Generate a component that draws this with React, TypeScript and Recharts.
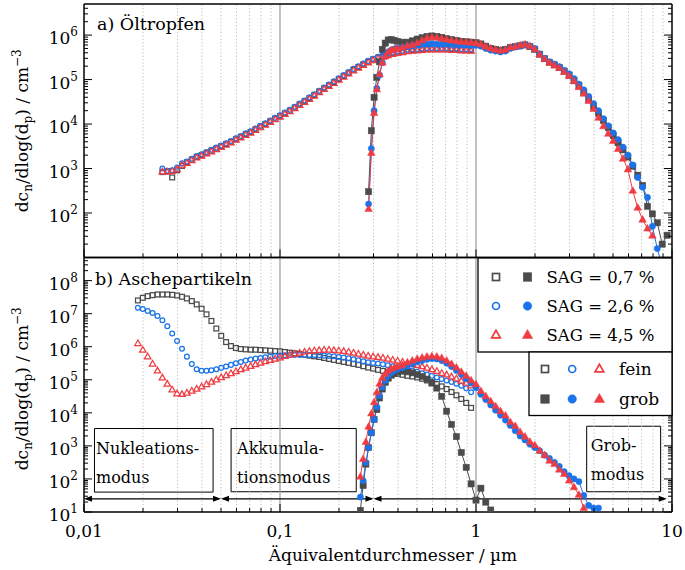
import React from "react";
import {
  ComposedChart,
  Scatter,
  Line,
  XAxis,
  YAxis,
  ReferenceLine,
  ReferenceArea,
} from "recharts";

const FONT = "'DejaVu Serif', serif";
const GREY = "#4b4b4b";
const BLUE = "#1a73e8";
const RED = "#ef3b42";

// diameters in µm: fine = open markers, coarse = filled markers
const fineDp = [
  0.01884, 0.01995, 0.02113, 0.02239, 0.02371, 0.02512, 0.02661, 0.02818, 0.02985, 0.03162,
  0.0335, 0.03548, 0.03758, 0.03981, 0.04217, 0.04467, 0.04732, 0.05012, 0.05309, 0.05623,
  0.05957, 0.0631, 0.06683, 0.07079, 0.07499, 0.07943, 0.08414, 0.08913, 0.09441, 0.1,
  0.1059, 0.1122, 0.1189, 0.1259, 0.1334, 0.1413, 0.1496, 0.1585, 0.1679, 0.1778,
  0.1884, 0.1995, 0.2113, 0.2239, 0.2371, 0.2512, 0.2661, 0.2818, 0.2985, 0.3162,
  0.335, 0.3548, 0.3758, 0.3981, 0.4217, 0.4467, 0.4732, 0.5012, 0.5309, 0.5623,
  0.5957, 0.631, 0.6683, 0.7079, 0.7499, 0.7943, 0.8414, 0.8913, 0.9441,
];
const coarseDp = [
  0.257, 0.2655, 0.2742, 0.2831, 0.2924, 0.302, 0.3119, 0.3221, 0.3327, 0.3443,
  0.3565, 0.3698, 0.3837, 0.3981, 0.4217, 0.4467, 0.4732, 0.5012, 0.5309, 0.5623,
  0.5957, 0.631, 0.6683, 0.7079, 0.7499, 0.7943, 0.8414, 0.8913, 0.9441, 1.0,
  1.059, 1.122, 1.189, 1.259, 1.334, 1.413, 1.496, 1.585, 1.679, 1.778,
  1.884, 1.995, 2.113, 2.239, 2.371, 2.512, 2.661, 2.818, 2.985, 3.162,
  3.35, 3.548, 3.758, 3.981, 4.217, 4.467, 4.732, 5.012, 5.309, 5.623,
  5.957, 6.31, 6.683, 7.079, 7.499, 7.943, 8.414, 8.913, 9.441,
];

// log10(dc_n/dlog(d_p) / cm^-3); null = no value
// a) Öltropfen
const oilFine07 = [
  null, null, null, null, null, 2.92, 2.94, 2.8, 2.96, 3.06,
  3.14, 3.2, 3.26, 3.3, 3.35, 3.4, 3.45, 3.5, 3.55, 3.6,
  3.66, 3.71, 3.77, 3.82, 3.88, 3.94, 4.0, 4.06, 4.12, 4.18,
  4.24, 4.3, 4.37, 4.44, 4.51, 4.58, 4.65, 4.73, 4.8, 4.87,
  4.94, 5.01, 5.08, 5.15, 5.22, 5.28, 5.34, 5.4, 5.45, 5.49,
  5.53, 5.56, 5.59, 5.61, 5.63, 5.65, 5.66, 5.67, 5.68, 5.69,
  5.69, 5.69, 5.69, 5.69, 5.68, 5.68, 5.67, 5.67, 5.66,
];
const oilFine26 = [
  null, null, null, null, null, 3.0, 2.95, 2.96, 3.02, 3.12,
  3.16, 3.22, 3.28, 3.32, 3.37, 3.42, 3.47, 3.52, 3.57, 3.62,
  3.68, 3.73, 3.79, 3.84, 3.9, 3.96, 4.02, 4.08, 4.14, 4.2,
  4.26, 4.32, 4.39, 4.46, 4.53, 4.6, 4.67, 4.75, 4.82, 4.89,
  4.96, 5.03, 5.1, 5.17, 5.24, 5.3, 5.36, 5.42, 5.47, 5.51,
  5.55, 5.58, 5.61, 5.63, 5.65, 5.67, 5.68, 5.69, 5.7, 5.71,
  5.71, 5.71, 5.71, 5.71, 5.7, 5.7, 5.69, 5.69, 5.68,
];
const oilFine45 = [
  null, null, null, null, null, 2.93, 2.92, 2.94, 2.98, 3.08,
  3.12, 3.18, 3.24, 3.28, 3.33, 3.38, 3.43, 3.48, 3.53, 3.58,
  3.64, 3.69, 3.75, 3.8, 3.86, 3.92, 3.98, 4.04, 4.1, 4.16,
  4.22, 4.28, 4.35, 4.42, 4.49, 4.56, 4.63, 4.71, 4.78, 4.85,
  4.92, 4.99, 5.06, 5.13, 5.2, 5.26, 5.32, 5.38, 5.43, 5.47,
  5.51, 5.54, 5.57, 5.59, 5.61, 5.63, 5.64, 5.65, 5.66, 5.67,
  5.67, 5.67, 5.67, 5.67, 5.66, 5.66, 5.65, 5.65, 5.64,
];
const oilCoarse07 = [
  null, null, null, 2.48, 3.85, 4.6, 5.05, 5.4, 5.68, 5.82,
  5.89, 5.9, 5.88, 5.86, 5.84, 5.84, 5.87, 5.91, 5.94, 5.97,
  5.98, 5.97, 5.95, 5.92, 5.9, 5.88, 5.86, 5.85, 5.84, 5.83,
  5.8, 5.75, 5.7, 5.68, 5.66, 5.68, 5.72, 5.74, 5.76, 5.78,
  5.74, 5.68, 5.57, 5.47, 5.39, 5.33, 5.27, 5.19, 5.1, 4.98,
  4.86, 4.72, 4.56, 4.4, 4.24, 4.08, 3.92, 3.74, 3.58, 3.42,
  3.26, 3.05, 2.85, 2.62, 2.15, 1.98, 1.78, 1.3, 1.5,
];
const oilCoarse26 = [
  null, null, null, 2.2, 3.45, 4.3, 4.8, 5.1, 5.38, 5.55,
  5.62, 5.66, 5.69, 5.71, 5.72, 5.74, 5.76, 5.78, 5.8, 5.8,
  5.81, 5.8, 5.8, 5.8, 5.8, 5.79, 5.79, 5.78, 5.78, 5.77,
  5.75, 5.7, 5.66, 5.64, 5.62, 5.64, 5.7, 5.73, 5.75, 5.78,
  5.75, 5.7, 5.58, 5.48, 5.4, 5.35, 5.29, 5.21, 5.13, 5.02,
  4.9, 4.77, 4.62, 4.46, 4.3, 4.12, 3.96, 3.8, 3.65, 3.48,
  3.3, 3.08, 2.8, 2.58, 2.35, 1.7, 1.2, 0.8, null,
];
const oilCoarse45 = [
  null, null, null, 2.09, 3.35, 4.25, 4.78, 5.12, 5.38, 5.52,
  5.62, 5.66, 5.68, 5.7, 5.72, 5.76, 5.78, 5.82, 5.88, 5.93,
  5.95, 5.94, 5.92, 5.9, 5.88, 5.86, 5.85, 5.84, 5.83, 5.82,
  5.79, 5.74, 5.7, 5.67, 5.65, 5.67, 5.72, 5.74, 5.77, 5.79,
  5.75, 5.68, 5.56, 5.46, 5.38, 5.32, 5.26, 5.17, 5.08, 4.96,
  4.83, 4.68, 4.52, 4.34, 4.14, 3.95, 3.78, 3.62, 3.44, 3.22,
  2.98, 2.5, 2.12, 1.85, 1.65, 1.49, null, null, null,
];

// b) Aschepartikeln
const ashFine07 = [
  7.4, 7.48, 7.53, 7.56, 7.58, 7.58, 7.58, 7.57, 7.55, 7.51,
  7.46, 7.38, 7.28, 7.15, 6.98, 6.78, 6.55, 6.33, 6.14, 6.02,
  5.96, 5.93, 5.92, 5.91, 5.91, 5.9, 5.89, 5.88, 5.87, 5.86,
  5.84, 5.82, 5.8, 5.78, 5.76, 5.73, 5.71, 5.69, 5.66, 5.63,
  5.6, 5.57, 5.54, 5.51, 5.48, 5.45, 5.41, 5.37, 5.34, 5.3,
  5.27, 5.24, 5.21, 5.18, 5.15, 5.12, 5.1, 5.07, 5.03, 4.98,
  4.93, 4.87, 4.8, 4.72, 4.63, 4.53, 4.42, 4.3, 4.15,
];
const ashFine26 = [
  7.18, 7.14, 7.08, 7.02, 6.93, 6.8, 6.62, 6.4, 6.17, 5.94,
  5.7, 5.48, 5.32, 5.27, 5.27, 5.29, 5.32, 5.36, 5.4, 5.45,
  5.5, 5.54, 5.58, 5.61, 5.64, 5.66, 5.68, 5.7, 5.72, 5.73,
  5.74, 5.75, 5.75, 5.75, 5.75, 5.75, 5.75, 5.74, 5.73, 5.72,
  5.71, 5.69, 5.67, 5.65, 5.62, 5.59, 5.56, 5.53, 5.51, 5.49,
  5.47, 5.44, 5.41, 5.38, 5.35, 5.31, 5.28, 5.24, 5.2, 5.16,
  5.12, 5.07, 5.02, 4.98, 4.93, 4.88, 4.82, 4.74, 4.62,
];
const ashFine45 = [
  6.1, 5.9, 5.7, 5.48, 5.27, 5.06, 4.87, 4.7, 4.58, 4.56,
  4.6, 4.66, 4.72, 4.79, 4.86, 4.93, 5.0, 5.07, 5.13, 5.19,
  5.25, 5.31, 5.36, 5.41, 5.46, 5.51, 5.55, 5.59, 5.63, 5.67,
  5.71, 5.75, 5.78, 5.81, 5.84, 5.86, 5.88, 5.89, 5.9, 5.9,
  5.89, 5.88, 5.86, 5.84, 5.81, 5.78, 5.75, 5.72, 5.7, 5.68,
  5.66, 5.63, 5.6, 5.57, 5.54, 5.51, 5.47, 5.44, 5.4, 5.36,
  5.31, 5.26, 5.2, 5.15, 5.09, 5.03, 4.96, 4.9, 4.82,
];
const ashCoarse07 = [
  1.05, 1.8, 2.45, 2.95, 3.4, 3.8, 4.1, 4.45, 4.72, 4.92,
  5.05, 5.14, 5.2, 5.24, 5.26, 5.24, 5.21, 5.16, 5.1, 5.02,
  4.9, 4.75, 4.5, 4.05, 3.65, 3.28, 2.8, 2.35, 1.85, 1.36,
  1.72, 1.3, 1.06, null, null, null, null, null, null, null,
  null, null, null, null, null, null, null, null, null, null,
  null, null, null, null, null, null, null, null, null, null,
  null, null, null, null, null, null, null, null, null,
];
const ashCoarse26 = [
  1.45, 1.95, 2.5, 2.95, 3.4, 3.8, 4.18, 4.52, 4.78, 4.98,
  5.12, 5.22, 5.28, 5.32, 5.36, 5.42, 5.48, 5.54, 5.58, 5.62,
  5.64, 5.63, 5.58, 5.5, 5.4, 5.28, 5.16, 5.03, 4.9, 4.76,
  4.56, 4.4, 4.24, 4.08, 3.93, 3.78, 3.62, 3.46, 3.3, 3.18,
  3.05, 2.95, 2.85, 2.72, 2.62, 2.5, 2.38, 2.22, 2.1, 2.0,
  1.92, 1.5, 1.2, 1.12, 1.12, null, null, null, null, null,
  null, null, null, null, null, null, null, null, null,
];
const ashCoarse45 = [
  2.07, 2.6, 3.12, 3.58, 3.98, 4.32, 4.62, 4.88, 5.06, 5.18,
  5.27, 5.33, 5.37, 5.4, 5.45, 5.52, 5.58, 5.63, 5.67, 5.7,
  5.71, 5.7, 5.66, 5.58, 5.48, 5.37, 5.24, 5.12, 4.98, 4.86,
  4.66, 4.5, 4.35, 4.2, 4.05, 3.92, 3.72, 3.6, 3.42, 3.28,
  3.12, 3.02, 2.85, 2.72, 2.55, 2.45, 2.28, 2.15, 1.95, 1.75,
  1.52, 1.12, null, null, null, null, null, null, null, null,
  null, null, null, null, null, null, null, null, null,
];

// axes
const xMajor = [0.01, 0.1, 1, 10];
const xMinor = [
  0.02, 0.03, 0.04, 0.05, 0.06, 0.07, 0.08, 0.09,
  0.2, 0.3, 0.4, 0.5, 0.6, 0.7, 0.8, 0.9,
  2, 3, 4, 5, 6, 7, 8, 9,
];
const xSolidGrid = [0.1, 1];
const decades = [10, 100, 1e3, 1e4, 1e5, 1e6, 1e7, 1e8];
const minorSteps = [2, 3, 4, 5, 6, 7, 8, 9];
const yMajorA = [10, 100, 1e3, 1e4, 1e5, 1e6];
const yLabelsA = [100, 1e3, 1e4, 1e5, 1e6];
const yMajorB = [10, 100, 1e3, 1e4, 1e5, 1e6, 1e7, 1e8];
const X_DOMAIN: [number, number] = [0.01, 10];
const Y_DOMAIN_A: [number, number] = [10, 5e6];
const Y_DOMAIN_B: [number, number] = [10, 5e8];

// Modus annotations (panel b)
const modeBounds = [0.01, 0.05, 0.3, 9.4];
const arrowLevel = 25;
const modeBoxes = [
  { x1: 0.01131, x2: 0.04556, y1: 40, y2: 3350, lines: ["Nukleations-", "modus"], pad: 1.5 },
  { x1: 0.05629, x2: 0.2449, y1: 41, y2: 3350, lines: ["Akkumula-", "tionsmodus"], pad: 6 },
  { x1: 3.67, x2: 8.75, y1: 41, y2: 3930, lines: ["Grob-", "modus"], pad: 4 },
];

const sagLabels = ["SAG = 0,7 %", "SAG = 2,6 %", "SAG = 4,5 %"];
const sizeLabels = ["fein", "grob"];

type Kind = "square" | "circle" | "triangle";
type Side = "left" | "right" | "top" | "bottom";
const styles: { kind: Kind; color: string }[] = [
  { kind: "square", color: GREY },
  { kind: "circle", color: BLUE },
  { kind: "triangle", color: RED },
];

const minorsBelow = (max: number) =>
  decades.flatMap((d) => minorSteps.map((k) => k * d)).filter((v) => v < max);

const pts = (xs: number[], logs: (number | null)[]) =>
  xs.flatMap((x, i) => (logs[i] == null ? [] : [{ x, y: Math.pow(10, logs[i] as number) }]));

const fmtDp = (v: number) => String(v).replace(".", ",");
const isDecade = (v: number) => Math.abs(Math.log10(v) - Math.round(Math.log10(v))) < 1e-6;

function Marker({
  cx, cy, kind, color, filled, size, sw,
}: { cx?: number; cy?: number; kind: Kind; color: string; filled: boolean; size: number; sw: number }) {
  if (cx == null || cy == null || !isFinite(cx) || !isFinite(cy)) return null;
  const fill = filled ? color : "none";
  if (kind === "square") {
    return <rect x={cx - size / 2} y={cy - size / 2} width={size} height={size} fill={fill} stroke={color} strokeWidth={sw} />;
  }
  if (kind === "circle") {
    return <circle cx={cx} cy={cy} r={size / 2} fill={fill} stroke={color} strokeWidth={sw} />;
  }
  const w = size * 1.15;
  const h = size;
  return (
    <polygon
      points={`${cx},${cy - h * 0.62} ${cx - w / 2},${cy + h * 0.38} ${cx + w / 2},${cy + h * 0.38}`}
      fill={fill}
      stroke={color}
      strokeWidth={sw}
    />
  );
}

// one inward tick mark (long on decades), with an optional label
function AxisTick({ x, y, payload, side, labels }: any) {
  const v = payload.value as number;
  const len = isDecade(v) ? 8 : 4;
  const dir: Record<Side, [number, number]> = {
    left: [len, 0],
    right: [-len, 0],
    bottom: [0, -len],
    top: [0, len],
  };
  const [dx, dy] = dir[side as Side];
  const show = labels && labels.some((l: number) => Math.abs(l - v) < 1e-9 * l);
  return (
    <g>
      <line x1={x} y1={y} x2={x + dx} y2={y + dy} stroke="#000" strokeWidth={1} />
      {show && side === "left" && (
        <text x={x - 6} y={y + 9} textAnchor="end" fontFamily={FONT} fontSize={17} fill="#000">
          10<tspan dy={-8} fontSize={12}>{Math.round(Math.log10(v))}</tspan>
        </text>
      )}
      {show && side === "bottom" && (
        <text x={x} y={y + 25} textAnchor="middle" fontFamily={FONT} fontSize={17} fill="#000">
          {fmtDp(v)}
        </text>
      )}
    </g>
  );
}

function YTitle({ cx, cy }: { cx: number; cy: number }) {
  return (
    <text transform={`rotate(-90 ${cx} ${cy})`} x={cx} y={cy} textAnchor="middle" fontFamily={FONT} fontSize={17} fill="#000">
      dc<tspan dy={4} fontSize={12}>n</tspan>
      <tspan dy={-4}>/dlog(d</tspan>
      <tspan dy={4} fontSize={12}>p</tspan>
      <tspan dy={-4}>) / cm</tspan>
      <tspan dy={-7} fontSize={12}>−3</tspan>
    </text>
  );
}

function DoubleArrow(p: any) {
  const { x1, x2, y1 } = p;
  if (![x1, x2, y1].every((v: number) => Number.isFinite(v))) return null;
  const L = 8;
  const W = 3;
  return (
    <g>
      <line x1={x1 + 2} y1={y1} x2={x2 - 2} y2={y1} stroke="#000" strokeWidth={1.2} />
      <polygon points={`${x1},${y1} ${x1 + L},${y1 - W} ${x1 + L},${y1 + W}`} fill="#000" />
      <polygon points={`${x2},${y1} ${x2 - L},${y1 - W} ${x2 - L},${y1 + W}`} fill="#000" />
    </g>
  );
}

const FRAME = { stroke: "#000", strokeWidth: 1.5 };
const xTicks = [...xMajor, ...xMinor];

const axisBase = {
  type: "number" as const,
  scale: "log" as const,
  allowDataOverflow: true,
  interval: 0 as const,
  tickLine: false,
  tickSize: 0,
  tickMargin: 0,
  axisLine: FRAME,
};

// main axes (left, bottom) carry ticks + labels; mirrored top/right axes carry ticks + frame
function axesFor(yDomain: [number, number], yMajor: number[], yLabels: number[], xLabels: number[], xHeight: number, xTitle: boolean, titleShift: number) {
  const yTicks = [...yMajor, ...minorsBelow(yDomain[1])];
  return [
    <XAxis
      key="x"
      xAxisId="x"
      dataKey="x"
      {...axisBase}
      domain={X_DOMAIN}
      ticks={xTicks}
      height={xHeight}
      tick={<AxisTick side="bottom" labels={xLabels} />}
      label={
        xTitle
          ? {
              content: (p: any) => (
                <text x={p.viewBox.x + p.viewBox.width / 2 + 15} y={p.viewBox.y + 49} textAnchor="middle" fontFamily={FONT} fontSize={17} fill="#000">
                  Äquivalentdurchmesser / µm
                </text>
              ),
            }
          : undefined
      }
    />,
    <XAxis key="xt" xAxisId="xt" {...axisBase} orientation="top" mirror domain={X_DOMAIN} ticks={xTicks} height={0.01} tick={<AxisTick side="top" />} />,
    <YAxis
      key="y"
      yAxisId="y"
      dataKey="y"
      {...axisBase}
      domain={yDomain}
      ticks={yTicks}
      width={84}
      tick={<AxisTick side="left" labels={yLabels} />}
      label={{ content: (p: any) => <YTitle cx={28} cy={p.viewBox.y + p.viewBox.height / 2 + titleShift} /> }}
    />,
    <YAxis key="yr" yAxisId="yr" {...axisBase} orientation="right" mirror domain={yDomain} ticks={yTicks} width={0.01} tick={<AxisTick side="right" />} />,
  ];
}

function gridLines() {
  return [
    ...xMinor.map((v) => (
      <ReferenceLine key={`g${v}`} x={v} xAxisId="x" yAxisId="y" stroke="#bdbdbd" strokeWidth={1} strokeDasharray="1.2 2.2" />
    )),
    ...xSolidGrid.map((v) => (
      <ReferenceLine key={`G${v}`} x={v} xAxisId="x" yAxisId="y" stroke="#9a9a9a" strokeWidth={1.2} />
    )),
  ];
}

function seriesFor(open: (number | null)[][], filled: (number | null)[][], tag: string) {
  const scatters = open.map((vals, i) => {
    const s = styles[i];
    return (
      <Scatter
        key={`${tag}o${i}`}
        data={pts(fineDp, vals)}
        xAxisId="x"
        yAxisId="y"
        isAnimationActive={false}
        shape={(p: any) => (
          <Marker cx={p.cx} cy={p.cy} kind={s.kind} color={s.color} filled={false} size={s.kind === "triangle" ? 5.6 : 4.8} sw={1.25} />
        )}
      />
    );
  });
  const lines = filled.map((vals, i) => {
    const s = styles[i];
    return (
      <Line
        key={`${tag}f${i}`}
        data={pts(coarseDp, vals)}
        dataKey="y"
        xAxisId="x"
        yAxisId="y"
        type="linear"
        stroke={s.color}
        strokeWidth={1}
        activeDot={false}
        isAnimationActive={false}
        dot={(p: any) => (
          <Marker key={`${tag}d${i}-${p.index}`} cx={p.cx} cy={p.cy} kind={s.kind} color={s.color} filled size={s.kind === "triangle" ? 6.6 : 6.2} sw={0.5} />
        )}
      />
    );
  });
  return [...scatters, ...lines];
}

function OilPanel() {
  return (
    <ComposedChart width={685} height={262} margin={{ top: 4, right: 13, bottom: 4.5, left: 0 }}>
      {gridLines()}
      {axesFor(Y_DOMAIN_A, yMajorA, yLabelsA, [], 0.01, false, 0)}
      {seriesFor([oilFine07, oilFine26, oilFine45], [oilCoarse07, oilCoarse26, oilCoarse45], "a")}
    </ComposedChart>
  );
}

function AshPanel() {
  return (
    <ComposedChart width={685} height={320} margin={{ top: 7.5, right: 13, bottom: 0, left: 0 }}>
      {gridLines()}
      {modeBoxes.map((b) => (
        <ReferenceArea
          key={b.lines[0]}
          xAxisId="x"
          yAxisId="y"
          x1={b.x1}
          x2={b.x2}
          y1={b.y1}
          y2={b.y2}
          fill="#fff"
          fillOpacity={1}
          stroke="#000"
          strokeWidth={1}
          label={(p: any) => {
            const vb = p.viewBox;
            return (
              <text fontFamily={FONT} fontSize={16} fill="#000">
                <tspan x={vb.x + b.pad} y={vb.y + 25}>{b.lines[0]}</tspan>
                <tspan x={vb.x + b.pad} y={vb.y + 54}>{b.lines[1]}</tspan>
              </text>
            );
          }}
        />
      ))}
      {modeBounds.slice(1).map((end, i) => (
        <ReferenceLine
          key={`arrow${i}`}
          xAxisId="x"
          yAxisId="y"
          ifOverflow="visible"
          segment={[{ x: modeBounds[i], y: arrowLevel }, { x: end, y: arrowLevel }]}
          shape={(p: any) => <DoubleArrow {...p} />}
        />
      ))}
      {axesFor(Y_DOMAIN_B, yMajorB, yMajorB, xMajor, 58, true, 4)}
      {seriesFor([ashFine07, ashFine26, ashFine45], [ashCoarse07, ashCoarse26, ashCoarse45], "b")}
    </ComposedChart>
  );
}

function Overlay() {
  return (
    <svg width={685} height={570} style={{ position: "absolute", left: 0, top: 0, pointerEvents: "none" }}>
      <text x={97} y={30} fontFamily={FONT} fontSize={17.5} fill="#000">a) Öltropfen</text>
      <text x={95} y={285} fontFamily={FONT} fontSize={17.5} fill="#000">b) Aschepartikeln</text>

      <rect x={478} y={258} width={194} height={94} fill="#fff" stroke="#000" strokeWidth={1.3} />
      {styles.map((s, i) => {
        const cy = 277 + i * 29;
        return (
          <g key={`sag${i}`}>
            <Marker cx={496} cy={cy} kind={s.kind} color={s.color} filled={false} size={s.kind === "triangle" ? 7.6 : 7} sw={1.7} />
            <Marker cx={527.5} cy={cy} kind={s.kind} color={s.color} filled size={s.kind === "triangle" ? 9 : 8.5} sw={0.5} />
            <text x={546.5} y={cy + 6} fontFamily={FONT} fontSize={16.5} fill="#000">{sagLabels[i]}</text>
          </g>
        );
      })}

      <rect x={529} y={352} width={143} height={63.5} fill="#fff" stroke="#000" strokeWidth={1.3} />
      {sizeLabels.map((lab, r) => {
        const cy = 369 + r * 30;
        return (
          <g key={lab}>
            {styles.map((s, i) => (
              <Marker
                key={i}
                cx={545 + i * 27.2}
                cy={cy}
                kind={s.kind}
                color={s.color}
                filled={r === 1}
                size={r === 1 ? (s.kind === "triangle" ? 9 : 8.5) : s.kind === "triangle" ? 7.6 : 7}
                sw={r === 1 ? 0.5 : 1.7}
              />
            ))}
            <text x={619} y={cy + 6} fontFamily={FONT} fontSize={17} fill="#000">{lab}</text>
          </g>
        );
      })}
    </svg>
  );
}

export default function App() {
  return (
    <div style={{ position: "absolute", left: 0, top: 0, width: 685, height: 570, background: "#fff", fontFamily: FONT }}>
      <div style={{ position: "absolute", left: 0, top: 0 }}>
        <OilPanel />
      </div>
      <div style={{ position: "absolute", left: 0, top: 250 }}>
        <AshPanel />
      </div>
      <Overlay />
    </div>
  );
}
